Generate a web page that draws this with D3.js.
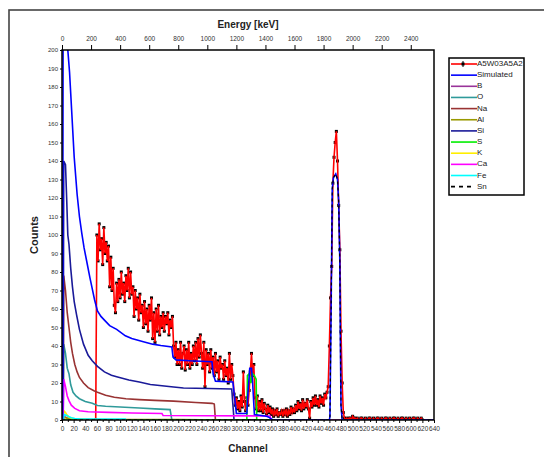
<!DOCTYPE html>
<html>
<head>
<meta charset="utf-8">
<script src="https://cdn.jsdelivr.net/npm/d3@7"></script>
<style>
body { margin: 0; background: #fff; }
svg text { font-family: "Liberation Sans", Arial, sans-serif; fill: #222; }
.tick text { fill: #333; }
</style>
</head>
<body>
<div class="chart"></div>
<script>
// measured spectrum: counts every 2 channels starting at channel 58
var expStart = 58;
var expStep = 2;
var expCounts = [0,
  100,86,106,92,98,84,104,90,96,86,
  94,72,88,70,82,62,58,74,64,76,
  66,80,68,74,64,78,70,82,66,80,
  68,72,56,70,60,66,54,68,58,62,
  50,64,52,60,48,62,54,66,44,58,
  42,60,48,62,46,56,50,58,48,56,
  52,58,46,54,50,56,40,34,42,30,
  38,30,42,28,36,40,27,38,30,42,
  28,36,30,40,32,42,30,44,34,46,
  36,28,42,18,38,30,36,26,38,28,
  34,24,36,26,32,22,34,28,30,22,
  32,24,28,20,36,22,30,24,14,8,
  12,6,10,5,13,7,26,10,5,12,
  8,16,26,36,24,30,12,6,13,5,
  10,5,11,4,9,6,3,8,4,7,
  3,6,2,5,3,6,2,4,3,5,
  2,5,3,6,2,5,3,7,4,6,
  4,8,5,10,6,9,5,11,6,9,
  7,11,6,1,10,7,12,8,13,8,
  11,7,13,9,12,8,14,12,15,18,
  40,66,83,128,142,150,156,140,116,92,
  48,20,4,1,0,1,0,1,1,0,
  2,1,1,0,1,0,0,1,1,0,
  0,1,0,0,1,1,0,0,1,0,
  0,1,1,0,0,1,0,0,1,1,
  0,0,1,0,0,1,1,0,0,1,
  0,0,1,1,0,0,1,0,0,1,
  0,0,1,1,0,0,1,0,0,1,
  0];

// simulated curves as [channel, counts]
var simulated = [[0,0],[1,0],[2,240],[8,240],[10,200],[13,188],[17,165],[21,142],[26,122],[30,110],[34,101],[38,93],[43,85],[48,77],[52,71],[56,65],[61,59],[67,56],[73,54],[82,51],[94,49],[109,45.5],[120,44],[140,42.3],[156,41],[170,40.3],[189,39.5],[191,34],[196,32.5],[220,32],[258,31.5],[260,25],[264,21],[294,20.5],[297,12],[300,3.5],[318,3.5],[320,15],[323,28],[326,28],[328,20],[331,3],[352,2],[356,1.5],[360,0.5],[364,0],[460,0],[461,2],[463,60],[465,125],[467,131],[471,133],[474,130],[476,118],[478,85],[479,40],[480,8],[482,0],[640,0]];
var curveB = [[0,0],[2,0],[3,2],[8,1.2],[15,0.6],[30,0.4],[50,0.3],[60,0]];
var curveO = [[0,0],[2,0],[3,41],[6,36],[9,28],[12,25],[15,19],[19,15],[24,13],[30,11.5],[40,10],[52,9],[61,7.8],[75,7.4],[100,7],[133,6.5],[160,6],[186,5.6],[189,0],[640,0]];
var curveNa = [[0,0],[2,0],[3,78],[6,70],[9,58],[12,50],[15,42],[18,36],[22,30],[26,26],[30,23],[37,20],[45,17.5],[55,15.8],[61,15],[75,13.4],[90,12.3],[110,11.5],[133,11],[160,10.6],[192,10.2],[230,9.5],[258,9],[262,8.6],[264,0],[640,0]];
var curveAl = [[0,0],[2,0],[3,1.5],[10,0.8],[20,0.5],[40,0.3],[200,0.2],[280,0]];
var curveSi = [[0,0],[2,0],[3,140],[6,138],[8,120],[10,100],[12,95],[15,82],[18,72],[21,64],[25,57],[30,49],[37,41],[45,35],[52,32],[61,29],[73,26],[85,24.2],[94,23.4],[115,21.6],[133,20.5],[152,19.2],[192,17.8],[209,17.3],[252,17],[292,16.8],[296,0],[640,0]];
var curveS = [[0,0],[318,0],[319,24],[322,25],[325,20],[328,25],[331,24],[334,22],[335,0],[640,0]];
var curveK = [[0,0],[2,0],[3,5],[6,4],[9,2.5],[12,1.5],[16,1],[22,0.6],[30,0.4],[40,0.2],[50,0]];
var curveCa = [[0,0],[2,0],[3,22],[6,18],[9,13],[12,10.5],[16,8],[22,6.3],[30,5],[45,4.5],[80,4.1],[120,3.8],[172,3.5],[174,2.4],[250,2.3],[358,2.2],[360,0],[640,0]];
var curveFe = [[0,0],[2,0],[4,3],[8,2.5],[12,1.8],[16,1.2],[22,0.8],[30,0.6],[60,0.5],[109,0.5],[110,0]];
var curveSn = [[0,0],[460,0],[461,2],[463,60],[465,125],[467,131],[471,133],[474,130],[476,118],[478,85],[479,40],[480,8],[482,0],[640,0]];

var legendLabels = ["A5W03A5A2","Simulated","B","O","Na","Al","Si","S","K","Ca","Fe","Sn"];
var channelTicks = d3.range(0, 641, 20);
var energyTicks = d3.range(0, 2401, 200);
var countTicks = d3.range(0, 201, 10);

var svgWidth = 544;
var svgHeight = 457;
var margin = {top: 50, right: 110, bottom: 37, left: 62};
var width = svgWidth - margin.left - margin.right;
var height = svgHeight - margin.top - margin.bottom;

var svg = d3.select(".chart").append("svg")
  .attr("width", svgWidth).attr("height", svgHeight);

// outer page frame
svg.append("rect")
  .attr("x", 9).attr("y", 10).attr("width", 600).attr("height", 500)
  .attr("fill", "none").attr("stroke", "#444").attr("stroke-width", 1.6);

var chartGroup = svg.append("g")
  .attr("transform", `translate(${margin.left}, ${margin.top})`);

var x = d3.scaleLinear().domain([0, 640]).range([0, width]);
var xEnergy = d3.scaleLinear().domain([0, 2560]).range([0, width]);
var y = d3.scaleLinear().domain([0, 200]).range([height, 0]);

chartGroup.append("clipPath").attr("id", "plotClip")
  .append("rect").attr("width", width).attr("height", height);

// axes
var bottomAxis = chartGroup.append("g")
  .attr("transform", `translate(0, ${height})`)
  .call(d3.axisBottom(x).tickValues(channelTicks).tickSize(3).tickPadding(2));
bottomAxis.selectAll("text").style("font-size", "6.5px").attr("dy", "0.9em");
chartGroup.append("g")
  .attr("transform", `translate(0, ${height})`)
  .call(d3.axisBottom(x).tickValues(d3.range(10, 640, 20)).tickSize(2).tickFormat(""));

var topAxis = chartGroup.append("g")
  .call(d3.axisTop(xEnergy).tickValues(energyTicks).tickSize(5).tickPadding(4).tickFormat(d3.format("d")));
topAxis.selectAll("text").style("font-size", "6.5px");

var leftAxis = chartGroup.append("g")
  .call(d3.axisLeft(y).tickValues(countTicks).tickSize(2).tickPadding(2));
leftAxis.selectAll("text").style("font-size", "6px");

chartGroup.selectAll(".domain").remove();
chartGroup.selectAll(".tick line").attr("stroke", "#000").attr("stroke-width", 1);

var plot = chartGroup.append("g").attr("clip-path", "url(#plotClip)");

var line = d3.line().x(d => x(d[0])).y(d => y(d[1]));

// measured data
var expData = expCounts.map((c, i) => [expStart + i * expStep, c]);
plot.selectAll(".marker")
  .data(expData)
  .enter()
  .append("rect")
  .attr("x", d => x(d[0]) - 1.5)
  .attr("y", d => y(d[1]) - 1.5)
  .attr("width", 3)
  .attr("height", 3)
  .attr("fill", "#000");
plot.append("path").datum(expData)
  .attr("d", line)
  .attr("fill", "none").attr("stroke", "#ff0000").attr("stroke-width", 1.6);

// element contributions
var elements = [
  {data: curveB, color: "#993399"},
  {data: curveO, color: "#2f9a9a"},
  {data: curveNa, color: "#993333"},
  {data: curveAl, color: "#999900"},
  {data: curveSi, color: "#1a1a99"},
  {data: curveS, color: "#00ee00"},
  {data: curveK, color: "#ffee00"},
  {data: curveCa, color: "#ff00ff"},
  {data: curveFe, color: "#00ffff"}
];
elements.forEach(function(el) {
  plot.append("path").datum(el.data)
    .attr("d", line)
    .attr("fill", "none").attr("stroke", el.color).attr("stroke-width", 1.6);
});

plot.append("path").datum(simulated)
  .attr("d", line)
  .attr("fill", "none").attr("stroke", "#0000ff").attr("stroke-width", 1.6);

plot.append("path").datum(curveSn)
  .attr("d", line)
  .attr("fill", "none").attr("stroke", "#000").attr("stroke-width", 1.2)
  .attr("stroke-dasharray", "3,3");

// plot frame
chartGroup.append("rect")
  .attr("width", width).attr("height", height)
  .attr("fill", "none").attr("stroke", "#000").attr("stroke-width", 1.5);

// axis titles
svg.append("text")
  .attr("x", margin.left + width / 2).attr("y", 28)
  .attr("text-anchor", "middle")
  .style("font-size", "10px").style("font-weight", "bold")
  .text("Energy [keV]");
svg.append("text")
  .attr("x", margin.left + width / 2).attr("y", 452)
  .attr("text-anchor", "middle")
  .style("font-size", "10px").style("font-weight", "bold")
  .text("Channel");
svg.append("text")
  .attr("transform", `translate(38, ${margin.top + height / 2}) rotate(-90)`)
  .attr("text-anchor", "middle")
  .style("font-size", "11px").style("font-weight", "bold")
  .text("Counts");

// legend
var legendColors = ["#ff0000","#0000ff","#993399","#2f9a9a","#993333","#999900","#1a1a99","#00ee00","#ffee00","#ff00ff","#00ffff","#000"];
var legend = svg.append("g").attr("transform", "translate(449, 58)");
legend.append("rect")
  .attr("width", 75).attr("height", 137)
  .attr("fill", "#fff").attr("stroke", "#000").attr("stroke-width", 1.5);
legendLabels.forEach(function(label, i) {
  var ly = 6 + i * 11.15;
  var row = legend.append("g").attr("transform", `translate(0, ${ly})`);
  row.append("line")
    .attr("x1", 2).attr("x2", i === 11 ? 22 : 28)
    .attr("stroke", legendColors[i]).attr("stroke-width", 1.6)
    .attr("stroke-dasharray", i === 11 ? "4,4" : null);
  if (i === 0) {
    row.append("line").attr("x1", 14).attr("x2", 14).attr("y1", -3).attr("y2", 3)
      .attr("stroke", "#000").attr("stroke-width", 1);
    row.append("rect").attr("x", 12.5).attr("y", -1.5).attr("width", 3).attr("height", 3).attr("fill", "#000");
  }
  row.append("text")
    .attr("x", 28).attr("y", 2)
    .style("font-size", "8px")
    .text(label);
});
</script>
</body>
</html>
